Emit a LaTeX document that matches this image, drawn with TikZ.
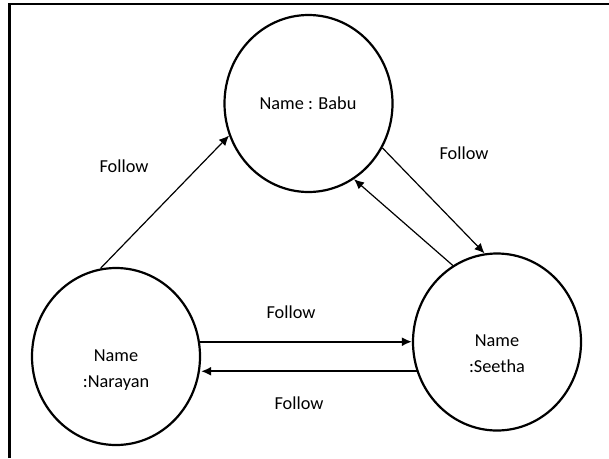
\documentclass[tikz,border=0pt]{standalone}
\usepackage{fontspec}
\setmainfont{Carlito}
\usetikzlibrary{arrows.meta,shapes.geometric}
\begin{document}
\begin{tikzpicture}[x=1pt,y=-1pt,
  person/.style={draw,ellipse,line width=2.2pt,minimum width=168pt,minimum height=177pt,inner sep=0pt},
  txt/.style={font=\fontsize{18.3}{26}\selectfont,align=center,inner sep=0pt},
  conn/.style={line width=1.2pt,-{Latex[length=10pt,width=9pt]}},
  hconn/.style={line width=1.8pt,-{Latex[length=10pt,width=9pt]}}]
\useasboundingbox (0,0) rectangle (609,458);
\draw[line width=2.2pt] (9.5,458) -- (9.5,3.8) -- (609,3.8);
\node[person] (babu) at (308.5,103.5) {};
\node[person] (nar) at (116,356.5) {};
\node[person] (see) at (497,342) {};
\node[txt] (tbabu) at (308,103) {Name : Babu};
\node[txt] (tnar) at (116,369.7) {Name\\:Narayan};
\node[txt] (tsee) at (497,354) {Name\\:Seetha};
\draw[conn] (nar.100.3) -- (babu.202.5);
\draw[conn] (babu.329.6) -- (see.98.7);
\draw[conn] (see.120) -- (babu.301.1);
\draw[hconn] (nar.10.8) -- (nar.10.8 -| see.west);
\draw[hconn] (see.200.5) -- (see.200.5 -| nar.east);
\node[txt] (f1) at (124,166.7) {Follow};
\node[txt] (f2) at (464,153) {Follow};
\node[txt] (f3) at (291,312.3) {Follow};
\node[txt] (f4) at (299,403.3) {Follow};
\end{tikzpicture}
\end{document}
